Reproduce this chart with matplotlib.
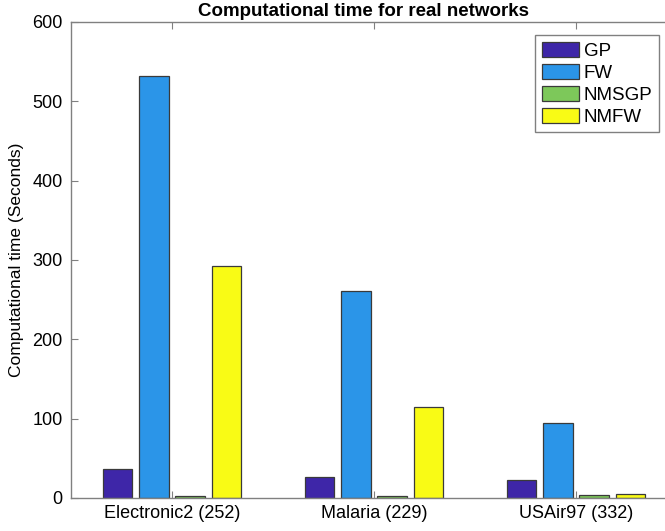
import numpy as np
import matplotlib
matplotlib.use("Agg")
import matplotlib.pyplot as plt

plt.rcParams['font.family'] = ['Liberation Sans', 'DejaVu Sans']

networks = ["Electronic2 (252)", "Malaria (229)", "USAir97 (332)"]
methods = ["GP", "FW", "NMSGP", "NMFW"]
gp = [36, 26, 22.5]
fw = [532, 261, 95]
nmsgp = [2.5, 2.1, 3.3]
nmfw = [293, 115, 5.5]
colors = ["#3e26a8", "#2b95e8", "#7dc85a", "#f9fb15"]
yticks = [0, 100, 200, 300, 400, 500, 600]

fig = plt.figure(figsize=(6.65, 5.31), dpi=100)
ax = fig.add_axes([71 / 665, 33 / 531, 606 / 665, 476 / 531])

x = np.arange(1, len(networks) + 1)
offsets = [-0.27, -0.09, 0.09, 0.27]
width = 0.148
for series, name, col, off in zip([gp, fw, nmsgp, nmfw], methods, colors, offsets):
    ax.bar(x + off, series, width, color=col, edgecolor="#3a3a3a",
           linewidth=0.9, label=name, zorder=2)

ax.set_xlim(0.5, 3.5)
ax.set_ylim(0, 600)
ax.set_xticks(x)
ax.set_xticklabels(networks, fontsize=13)
ax.set_yticks(yticks)
ax.set_yticklabels([str(v) for v in yticks], fontsize=13)
ax.tick_params(axis='x', direction='in', top=True, length=5, color="#808080", pad=5)
ax.tick_params(axis='y', direction='in', length=5, color="#808080", pad=6)
for side in ["left", "bottom", "top", "right"]:
    ax.spines[side].set_color("#808080")
    ax.spines[side].set_linewidth(1.0)

ax.set_ylabel("Computational time (Seconds)", fontsize=12.5, labelpad=6)
fig.text(364 / 665, 1 - 11 / 531, "Computational time for real networks",
         ha="center", va="center", fontsize=13.5, fontweight="bold")

leg = ax.legend(loc="upper right", bbox_to_anchor=(659 / 665, 1 - 35 / 531),
                bbox_transform=fig.transFigure, borderaxespad=0, fontsize=13.5,
                handlelength=2.0, handleheight=0.85, handletextpad=0.25,
                labelspacing=0.22, borderpad=0.35, fancybox=False, framealpha=1)
leg.get_frame().set_edgecolor("#808080")
leg.get_frame().set_linewidth(1.0)

fig.savefig("out.png", dpi=100)
